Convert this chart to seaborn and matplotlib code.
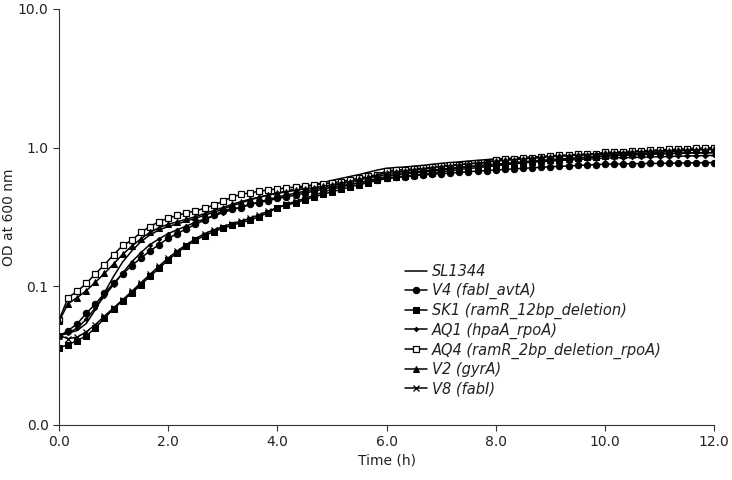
import numpy as np
import pandas as pd
import matplotlib
matplotlib.use("Agg")
import matplotlib.pyplot as plt
import seaborn as sns

# time points (minutes, readings every 10 min)
minutes = list(range(0, 730, 10))

labels = ["SL1344", "V4 (fabI_avtA)", "SK1 (ramR_12bp_deletion)", "AQ1 (hpaA_rpoA)",
          "AQ4 (ramR_2bp_deletion_rpoA)", "V2 (gyrA)", "V8 (fabI)"]

sl1344 = [0.045, 0.046, 0.048, 0.054, 0.068, 0.090,
          0.118, 0.150, 0.180, 0.210, 0.235, 0.255,
          0.270, 0.282, 0.295, 0.310, 0.325, 0.342,
          0.360, 0.380, 0.400, 0.420, 0.438, 0.455,
          0.470, 0.487, 0.503, 0.520, 0.540, 0.560,
          0.580, 0.600, 0.620, 0.640, 0.665, 0.690,
          0.710, 0.718, 0.726, 0.735, 0.745, 0.758,
          0.770, 0.780, 0.790, 0.800, 0.810, 0.820,
          0.830, 0.836, 0.842, 0.850, 0.856, 0.862,
          0.868, 0.873, 0.878, 0.884, 0.889, 0.894,
          0.898, 0.900, 0.902, 0.904, 0.906, 0.908,
          0.910, 0.912, 0.914, 0.916, 0.918, 0.919,
          0.920]

v4 = [0.0436, 0.048, 0.0536, 0.0639, 0.0747, 0.089,
      0.105, 0.123, 0.141, 0.160, 0.180, 0.200,
      0.222, 0.240, 0.260, 0.280, 0.300, 0.325,
      0.350, 0.362, 0.370, 0.390, 0.402, 0.415,
      0.430, 0.442, 0.455, 0.470, 0.485, 0.500,
      0.518, 0.530, 0.545, 0.558, 0.572, 0.588,
      0.600, 0.610, 0.618, 0.628, 0.636, 0.642,
      0.650, 0.657, 0.664, 0.671, 0.678, 0.684,
      0.690, 0.697, 0.703, 0.710, 0.716, 0.722,
      0.728, 0.733, 0.738, 0.744, 0.750, 0.755,
      0.760, 0.762, 0.764, 0.766, 0.768, 0.769,
      0.770, 0.772, 0.774, 0.776, 0.778, 0.779,
      0.780]

sk1 = [0.036, 0.038, 0.0406, 0.044, 0.050, 0.059,
       0.0687, 0.0789, 0.089, 0.103, 0.118, 0.135,
       0.155, 0.175, 0.195, 0.215, 0.232, 0.248,
       0.262, 0.275, 0.288, 0.300, 0.318, 0.340,
       0.370, 0.385, 0.400, 0.420, 0.440, 0.460,
       0.480, 0.500, 0.520, 0.540, 0.560, 0.580,
       0.600, 0.610, 0.620, 0.630, 0.643, 0.656,
       0.670, 0.682, 0.694, 0.706, 0.718, 0.729,
       0.740, 0.752, 0.764, 0.776, 0.788, 0.799,
       0.810, 0.820, 0.830, 0.840, 0.850, 0.860,
       0.870, 0.880, 0.890, 0.900, 0.910, 0.920,
       0.930, 0.938, 0.946, 0.955, 0.965, 0.972,
       0.980]

aq1 = [0.044, 0.046, 0.050, 0.058, 0.070, 0.085,
       0.103, 0.125, 0.150, 0.175, 0.200, 0.220,
       0.240, 0.256, 0.272, 0.290, 0.306, 0.322,
       0.340, 0.357, 0.373, 0.390, 0.407, 0.423,
       0.440, 0.455, 0.470, 0.485, 0.500, 0.515,
       0.530, 0.548, 0.566, 0.585, 0.605, 0.622,
       0.640, 0.650, 0.660, 0.670, 0.680, 0.690,
       0.700, 0.710, 0.720, 0.730, 0.740, 0.750,
       0.760, 0.767, 0.773, 0.780, 0.787, 0.793,
       0.800, 0.807, 0.813, 0.820, 0.827, 0.833,
       0.840, 0.843, 0.847, 0.850, 0.853, 0.857,
       0.860, 0.863, 0.867, 0.870, 0.873, 0.877,
       0.880]

aq4 = [0.057, 0.083, 0.092, 0.105, 0.123, 0.143,
       0.169, 0.197, 0.215, 0.245, 0.270, 0.293,
       0.310, 0.325, 0.338, 0.350, 0.365, 0.385,
       0.410, 0.440, 0.460, 0.472, 0.485, 0.495,
       0.505, 0.512, 0.520, 0.530, 0.538, 0.548,
       0.558, 0.570, 0.585, 0.605, 0.620, 0.640,
       0.680, 0.688, 0.695, 0.705, 0.712, 0.720,
       0.740, 0.748, 0.755, 0.765, 0.772, 0.780,
       0.815, 0.822, 0.830, 0.840, 0.845, 0.852,
       0.875, 0.880, 0.885, 0.895, 0.900, 0.905,
       0.925, 0.930, 0.935, 0.945, 0.950, 0.955,
       0.965, 0.970, 0.975, 0.985, 0.990, 0.995,
       1.000]

v2 = [0.056, 0.075, 0.083, 0.093, 0.107, 0.124,
      0.145, 0.170, 0.195, 0.220, 0.245, 0.265,
      0.280, 0.292, 0.305, 0.318, 0.335, 0.352,
      0.370, 0.390, 0.408, 0.425, 0.440, 0.455,
      0.468, 0.480, 0.492, 0.505, 0.515, 0.527,
      0.540, 0.555, 0.570, 0.590, 0.610, 0.635,
      0.660, 0.670, 0.680, 0.695, 0.705, 0.718,
      0.730, 0.740, 0.750, 0.765, 0.775, 0.785,
      0.800, 0.810, 0.820, 0.830, 0.840, 0.850,
      0.860, 0.868, 0.876, 0.884, 0.892, 0.900,
      0.910, 0.916, 0.922, 0.930, 0.936, 0.942,
      0.948, 0.952, 0.956, 0.960, 0.965, 0.968,
      0.970]

v8 = [0.044, 0.042, 0.043, 0.047, 0.053, 0.061,
      0.070, 0.080, 0.092, 0.106, 0.122, 0.140,
      0.160, 0.180, 0.200, 0.220, 0.240, 0.255,
      0.270, 0.283, 0.295, 0.310, 0.328, 0.348,
      0.370, 0.390, 0.410, 0.430, 0.453, 0.477,
      0.500, 0.520, 0.540, 0.560, 0.580, 0.600,
      0.620, 0.632, 0.643, 0.655, 0.667, 0.678,
      0.690, 0.702, 0.714, 0.726, 0.738, 0.749,
      0.760, 0.770, 0.780, 0.790, 0.800, 0.810,
      0.820, 0.828, 0.837, 0.845, 0.853, 0.862,
      0.870, 0.875, 0.880, 0.885, 0.890, 0.895,
      0.900, 0.904, 0.908, 0.912, 0.916, 0.918,
      0.920]

x_ticks = [0, 2, 4, 6, 8, 10, 12]
x_tick_labels = ["0.0", "2.0", "4.0", "6.0", "8.0", "10.0", "12.0"]
y_ticks = [0.01, 0.1, 1, 10]
y_tick_labels = ["0.0", "0.1", "1.0", "10.0"]

series = [sl1344, v4, sk1, aq1, aq4, v2, v8]
styles = [
    dict(marker=None),
    dict(marker="o", markersize=4.6, markerfacecolor="black"),
    dict(marker="s", markersize=4.3, markerfacecolor="black"),
    dict(marker="D", markersize=2.2, markerfacecolor="black"),
    dict(marker="s", markersize=5, markerfacecolor="white", markeredgewidth=0.9),
    dict(marker="^", markersize=4.6, markerfacecolor="black"),
    dict(marker="x", markersize=4.6, markeredgewidth=0.9),
]

sns.set_style("ticks")
plt.rcParams["font.family"] = ["DejaVu Sans"]

fig = plt.figure(figsize=(7.32, 4.8), dpi=100)
ax = fig.add_axes([0.0806, 0.1146, 0.895, 0.8667])

hours = np.array(minutes) / 60.0
for lab, vals, st in zip(labels, series, styles):
    df = pd.DataFrame({"Time": hours, "OD": vals})
    sns.lineplot(data=df, x="Time", y="OD", ax=ax, color="black", linewidth=1.1,
                 label=lab, markeredgecolor="black", **st)

ax.set_yscale("log")
ax.set_xlim(0, 12)
ax.set_ylim(0.01, 10)
ax.set_xticks(x_ticks)
ax.set_xticklabels(x_tick_labels)
ax.set_yticks(y_ticks)
ax.set_yticklabels(y_tick_labels)
ax.yaxis.set_minor_locator(matplotlib.ticker.NullLocator())
ax.tick_params(axis="both", labelsize=10, length=4.5, width=0.8, color="#333333",
               labelcolor="#222222", pad=3)
ax.set_xlabel("Time (h)", fontsize=10, color="#222222", labelpad=3)
ax.set_ylabel("OD at 600 nm", fontsize=10, color="#222222", va="center")
ax.yaxis.set_label_coords(-0.076, 0.5)
for s in ["top", "right"]:
    ax.spines[s].set_visible(False)
for s in ["left", "bottom"]:
    ax.spines[s].set_linewidth(0.8)
    ax.spines[s].set_color("#333333")

leg = ax.legend(loc="upper left", bbox_to_anchor=(0.519, 0.401), frameon=False,
                prop={"style": "italic", "size": 10.5}, handlelength=1.55,
                handletextpad=0.3, labelspacing=0.255, borderaxespad=0)
for t in leg.get_texts():
    t.set_color("#222222")

fig.savefig("out.png", dpi=100)
